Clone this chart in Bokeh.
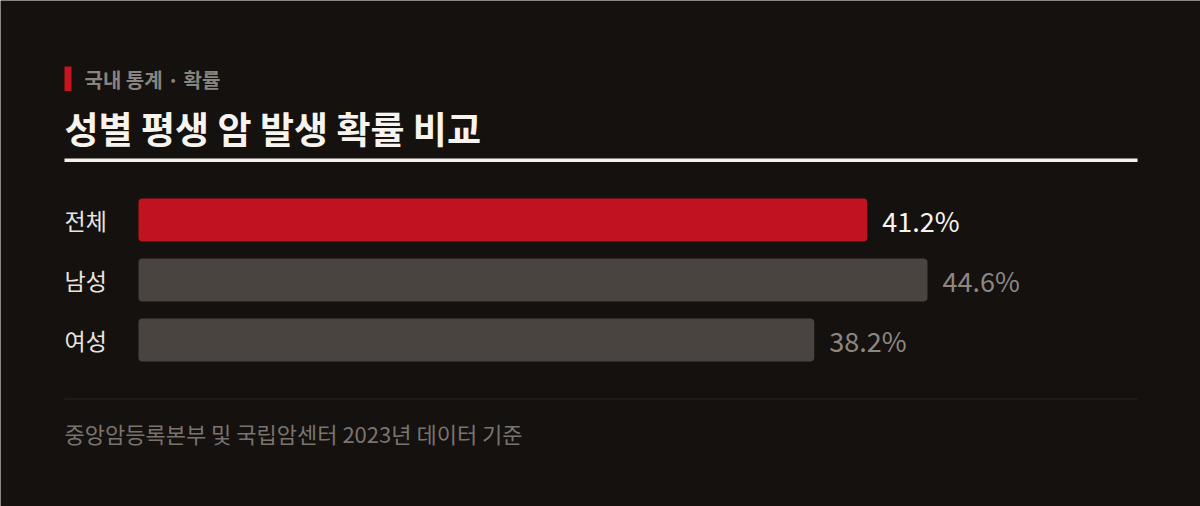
from bokeh.plotting import figure
from bokeh.models import Range1d, ColumnDataSource
from bokeh.core.properties import value
from bokeh.embed import file_html
from bokeh.resources import INLINE

# ---- data ----
categories = ["전체", "남성", "여성"]
probabilities = [41.2, 44.6, 38.2]
value_labels = ["41.2%", "44.6%", "38.2%"]
kicker = "국내 통계 · 확률"
title_text = "성별 평생 암 발생 확률 비교"
source_text = "중앙암등록본부 및 국립암센터 2023년 데이터 기준"

# ---- layout (pixels inside figure) ----
W, H = 1200, 506
BG = "#14110f"
FONT = "Noto Sans CJK KR"
px_per_unit = 17.69
x0_px = 138.0          # pixel position of value 0
x_start = -x0_px / px_per_unit
x_end = x_start + W / px_per_unit

def px2x(px):
    return x_start + px / px_per_unit

p = figure(width=W, height=H, output_backend="svg", toolbar_location=None,
           x_range=Range1d(x_start, x_end), y_range=Range1d(H, 0),
           min_border=0, min_border_left=0, min_border_right=0,
           min_border_top=0, min_border_bottom=0)
p.axis.visible = False
p.grid.visible = False
p.outline_line_color = None
p.background_fill_color = BG
p.border_fill_color = BG

# header accent
p.quad(left=px2x(64), right=px2x(71), top=66, bottom=90.5, color="#c8141f", line_color=None)
p.text(x=[px2x(84)], y=[78.5], text=[kicker], text_font=value(FONT), text_font_size="20px",
       text_font_style="bold", text_color="#8a847f", text_baseline="middle", text_align="left")
p.text(x=[px2x(64)], y=[127], text=[title_text], text_font=value(FONT), text_font_size="37px",
       text_font_style="bold", text_color="#f7f4f0", text_baseline="middle", text_align="left")
p.quad(left=px2x(64), right=px2x(1137), top=158, bottom=161.5, color="#f5f2ee", line_color=None)

# bars
first_y, pitch, bar_h = 219.5, 60, 43
ys = [first_y + i * pitch for i in range(len(categories))]
colors = ["#c0121f"] + ["#4a4441"] * (len(categories) - 1)
val_colors = ["#f7f4f0"] + ["#8d8782"] * (len(categories) - 1)
src = ColumnDataSource(dict(y=ys, right=probabilities, color=colors, cat=categories,
                            lab=value_labels, vcol=val_colors,
                            lx=[v + 15 / px_per_unit for v in probabilities]))
p.hbar(y="y", left=0, right="right", height=bar_h, color="color", line_color=None,
       border_radius=4, source=src)
p.text(x=px2x(64), y="y", text="cat", source=src, text_font=value(FONT), text_font_size="23px",
       text_color="#e8e4df", text_baseline="middle", text_align="left")
p.text(x="lx", y="y", text="lab", source=src, text_font=value(FONT), text_font_size="27px",
       text_color="vcol", text_baseline="middle", text_align="left")

# footer
p.quad(left=px2x(64), right=px2x(1137), top=398, bottom=399, color="#2b2725", line_color=None)
p.text(x=[px2x(64)], y=[432], text=[source_text], text_font=value(FONT), text_font_size="22px",
       text_color="#7a746f", text_baseline="middle", text_align="left")

open("out.html", "w").write(file_html(p, INLINE))
